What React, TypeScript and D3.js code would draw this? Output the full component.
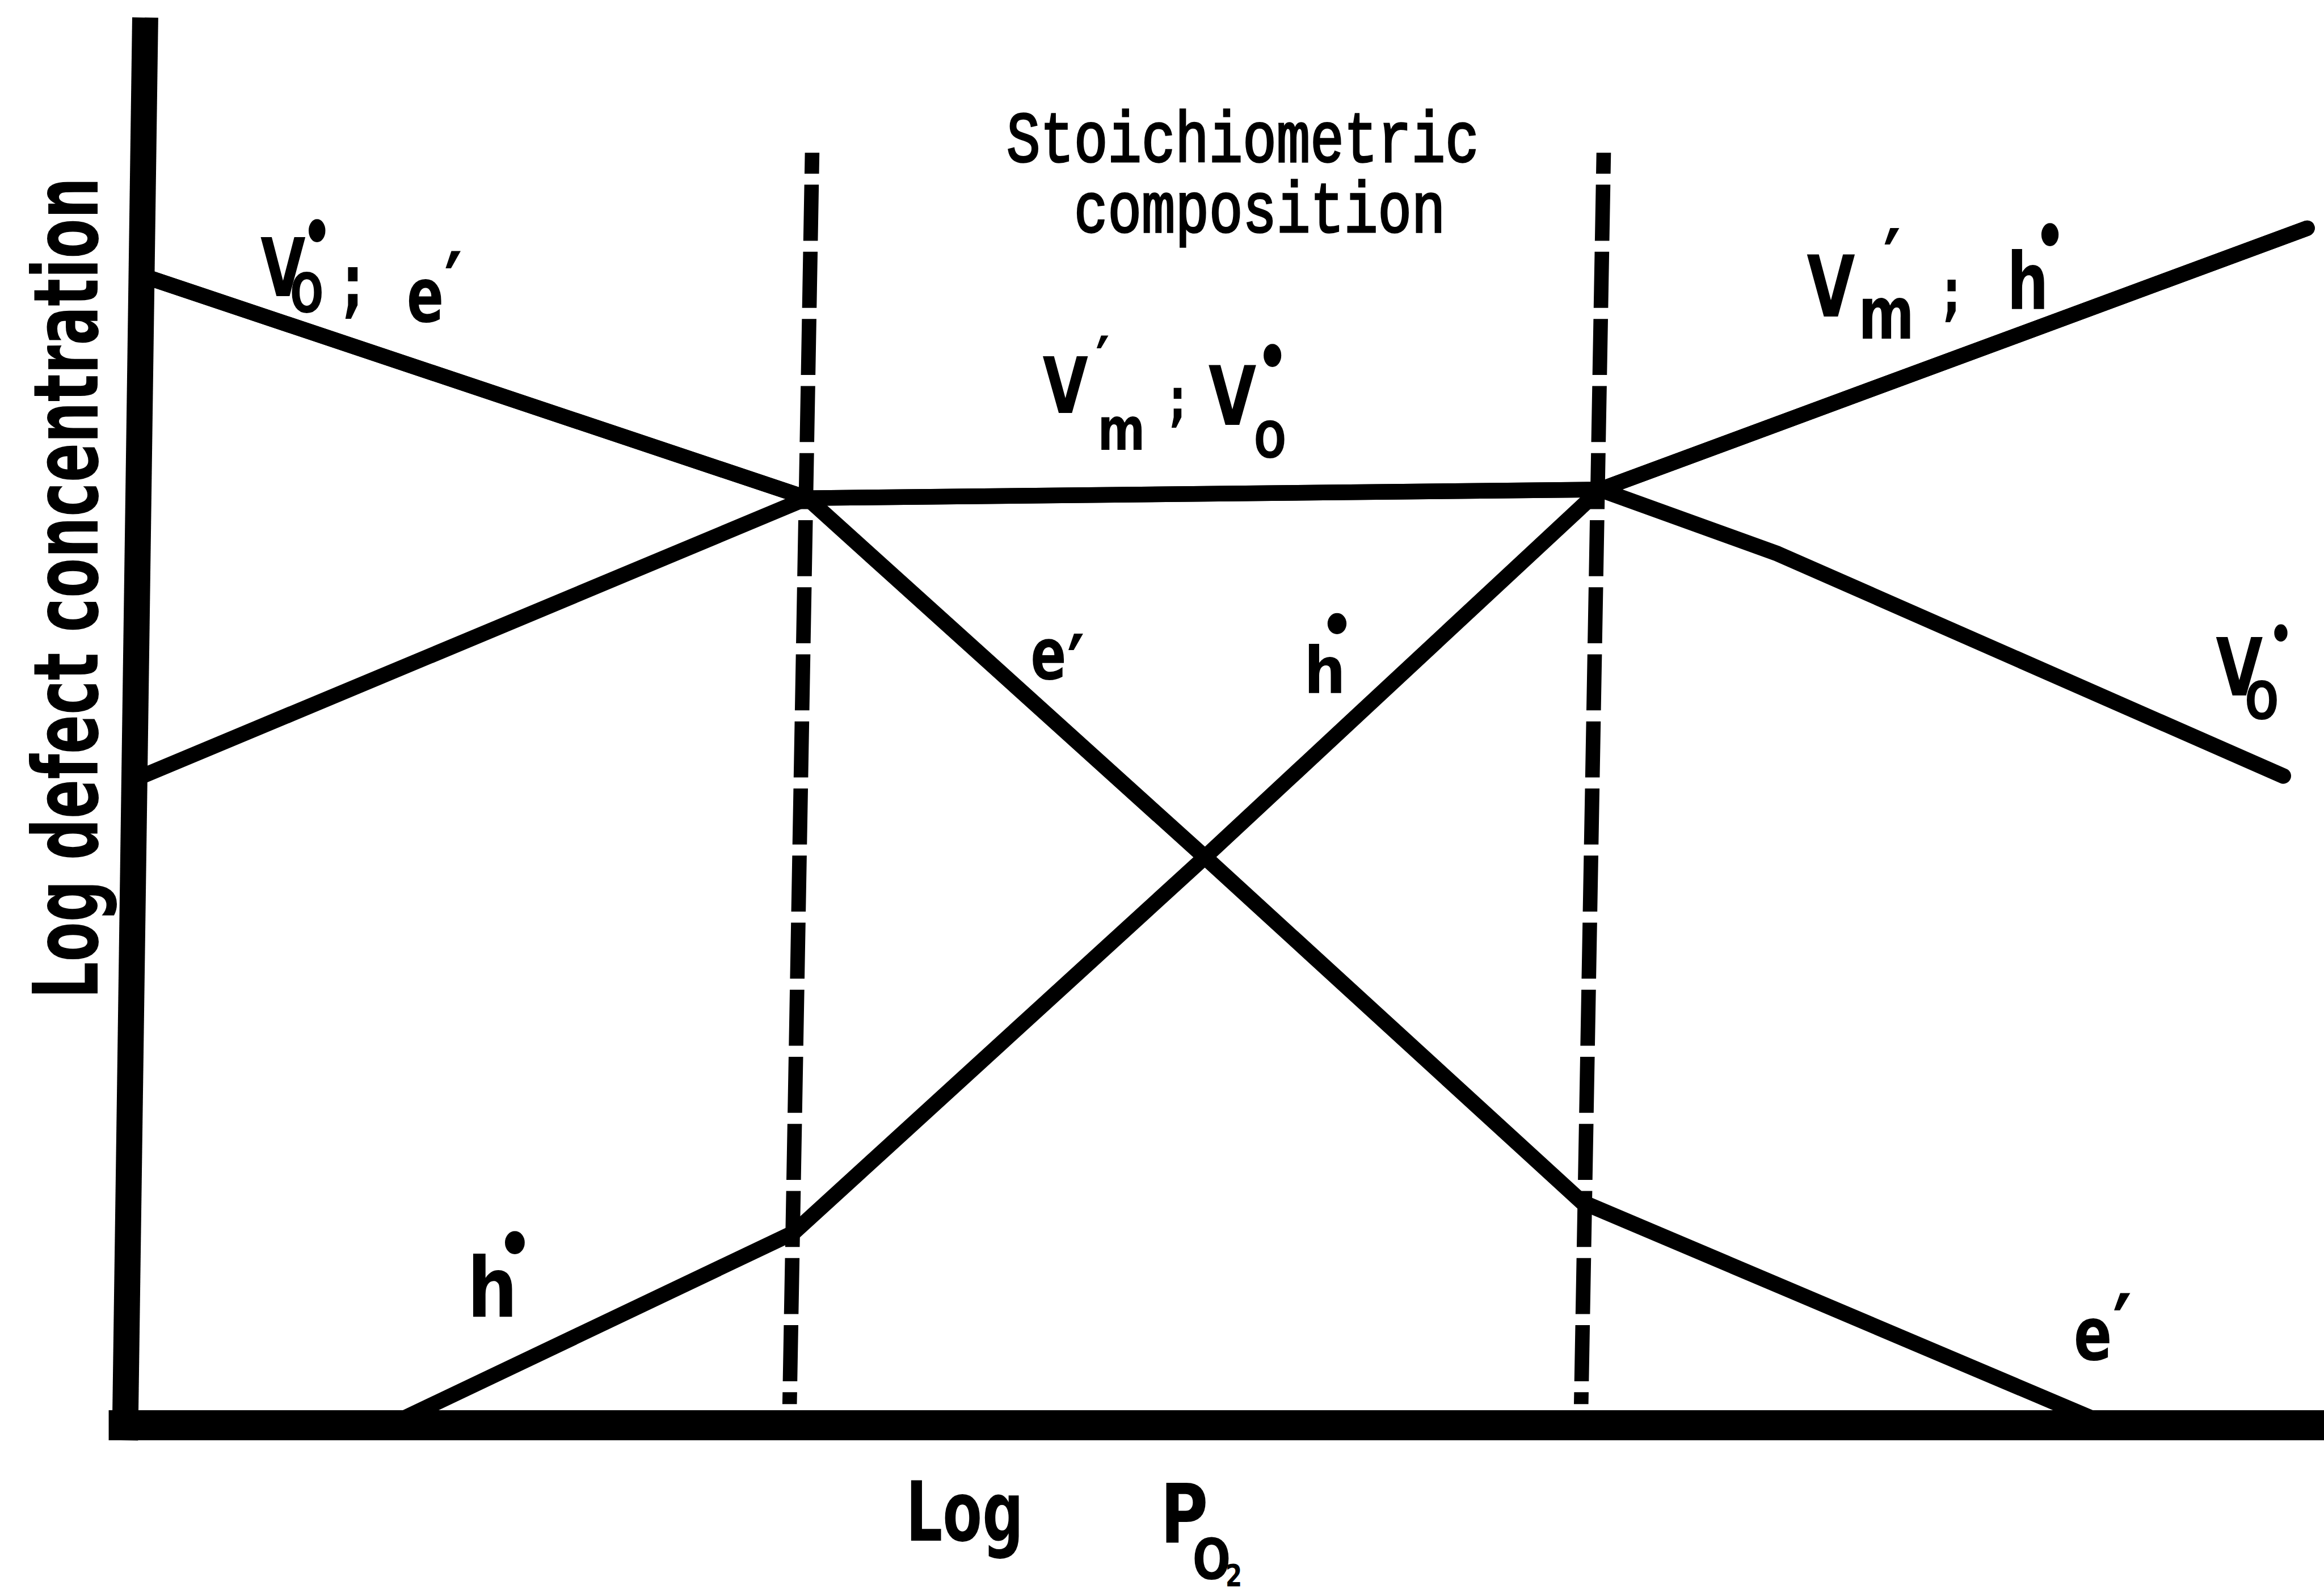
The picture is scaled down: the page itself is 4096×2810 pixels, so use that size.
import React from "react";
import * as d3 from "d3";

// Brouwer-type defect diagram: log defect concentration against log pO2.
// p: log pO2 in arbitrary units (0 at the ordinate, 100 at the right edge)
// c: log concentration in arbitrary units (0 on the abscissa, 100 at the top of the ordinate)
type Pt = { p: number; c: number };

const oxygenVacancies: Pt[] = [
  { p: 0.27, c: 81.44 },
  { p: 30.26, c: 65.86 },
  { p: 66.31, c: 66.47 },
  { p: 74.44, c: 61.91 },
  { p: 97.62, c: 46.12 },
];

const metalVacancies: Pt[] = [
  { p: 0.15, c: 46.05 },
  { p: 30.26, c: 65.86 },
  { p: 66.31, c: 66.47 },
  { p: 98.25, c: 85.03 },
];

const electrons: Pt[] = [
  { p: 0.27, c: 81.44 },
  { p: 30.26, c: 65.86 },
  { p: 48.64, c: 40.36 },
  { p: 66.07, c: 15.86 },
  { p: 90.2, c: 0 },
];

const holes: Pt[] = [
  { p: 12.0, c: 0 },
  { p: 30.25, c: 13.69 },
  { p: 48.64, c: 40.36 },
  { p: 66.31, c: 66.47 },
  { p: 98.25, c: 85.03 },
];

// Edges of the near-stoichiometric region (log pO2) and the span of the dashed markers
const regionBoundaries = [30.2, 66.2];
const boundarySpan = [1.5, 90.4];

const captionLines = ["Stoichiometric", "composition"];
const yTitle = "Log defect concentration";
const xTitleWord = "Log";
const xTitleSymbol = ["P", "O", "2"];

// Drawing units follow a 4641 x 3184 sheet, scaled into the window by the viewBox
const SHEET_W = 4641;
const SHEET_H = 3184;
const PLOT_SHEAR = 0.018; // the hand-ruled verticals lean slightly to the right
const AXIS_SHEAR = 0.0142;

// A Kröger–Vink label: a horizontally condensed run of glyphs.
// Each glyph has a start x (or centre x for the charge dot), baseline y and font size.
type Glyph = { t: string; x: number; y: number; f: number; dot?: boolean };
type DefectLabel = { sx: number; glyphs: Glyph[] };

const defectLabels: DefectLabel[] = [
  {
    // V_O• ; e′
    sx: 0.72,
    glyphs: [
      { t: "V", x: 520, y: 591, f: 162 },
      { t: "O", x: 579, y: 624, f: 110 },
      { t: "•", x: 633, y: 520, f: 160, dot: true },
      { t: ";", x: 683, y: 615, f: 150 },
      { t: "e", x: 812, y: 643, f: 152 },
      { t: "′", x: 887, y: 640, f: 190 },
    ],
  },
  {
    // V′m ; V_O•
    sx: 0.76,
    glyphs: [
      { t: "V", x: 2082, y: 825, f: 155 },
      { t: "′", x: 2188, y: 772, f: 140 },
      { t: "m", x: 2192, y: 898, f: 120 },
      { t: ";", x: 2334, y: 839, f: 115 },
      { t: "V", x: 2413, y: 849, f: 163 },
      { t: "•", x: 2541, y: 769, f: 160, dot: true },
      { t: "O", x: 2504, y: 914, f: 100 },
    ],
  },
  {
    // V′m ; h•
    sx: 0.74,
    glyphs: [
      { t: "V", x: 3608, y: 632, f: 169 },
      { t: "′", x: 3761, y: 587, f: 180 },
      { t: "m", x: 3711, y: 677, f: 145 },
      { t: ";", x: 3879, y: 627, f: 124 },
      { t: "h", x: 4008, y: 618, f: 158 },
      { t: "•", x: 4094, y: 528, f: 160, dot: true },
    ],
  },
  {
    // e′ (middle)
    sx: 0.74,
    glyphs: [
      { t: "e", x: 2058, y: 1356, f: 143 },
      { t: "′", x: 2131, y: 1397, f: 180 },
    ],
  },
  {
    // h• (middle)
    sx: 0.9,
    glyphs: [
      { t: "h", x: 2604, y: 1385, f: 130 },
      { t: "•", x: 2670, y: 1300, f: 145, dot: true },
    ],
  },
  {
    // V_O• (right)
    sx: 0.76,
    glyphs: [
      { t: "V", x: 4425, y: 1389, f: 160 },
      { t: "O", x: 4483, y: 1437, f: 105 },
      { t: "•", x: 4555, y: 1309, f: 120, dot: true },
    ],
  },
  {
    // h• (lower left)
    sx: 0.85,
    glyphs: [
      { t: "h", x: 933, y: 2630, f: 166 },
      { t: "•", x: 1028, y: 2541, f: 160, dot: true },
    ],
  },
  {
    // e′ (lower right)
    sx: 0.77,
    glyphs: [
      { t: "e", x: 4141, y: 2716, f: 147 },
      { t: "′", x: 4219, y: 2722, f: 190 },
    ],
  },
];

const LABEL_FONT = "'DejaVu Sans', 'Liberation Sans', sans-serif";
const TYPE_FONT = "'Liberation Mono', 'DejaVu Sans Mono', monospace";
const DOT_HALF_ADVANCE = 0.295; // half the advance of the bullet glyph, in em

function Label({ label }: { label: DefectLabel }) {
  const { sx, glyphs } = label;
  return (
    <text transform={`scale(${sx},1)`} fontFamily={LABEL_FONT} fontWeight="bold" fill="#000">
      {glyphs.map((g, j) => {
        const start = g.dot ? g.x - DOT_HALF_ADVANCE * g.f * sx : g.x;
        return (
          <tspan
            key={j}
            x={start / sx}
            y={g.y}
            fontSize={g.f}
            fontWeight={g.dot ? "normal" : "bold"}
          >
            {g.t}
          </tspan>
        );
      })}
    </text>
  );
}

export default function App() {
  const x = d3.scaleLinear().domain([0, 100]).range([250, SHEET_W]);
  const y = d3.scaleLinear().domain([0, 100]).range([2847, 35]);
  const y0 = y(0);

  const line = d3
    .line<Pt>()
    .x((d) => x(d.p))
    .y((d) => y(d.c));

  const shearDeg = (-Math.atan(PLOT_SHEAR) * 180) / Math.PI;
  const plotTransform = `translate(0,${y0}) skewX(${shearDeg}) translate(0,${-y0})`;

  const series = [oxygenVacancies, metalVacancies, electrons, holes];

  const yAxisTop = y(100);
  const yAxisBottom = y0 + 30;

  const captionScale = 0.791;

  return (
    <svg
      width={4096}
      height={2810}
      viewBox={`0 0 ${SHEET_W} ${SHEET_H}`}
      style={{ position: "absolute", left: 0, top: 0, background: "#fff" }}
    >
      <rect x={0} y={0} width={SHEET_W} height={SHEET_H} fill="#fff" />

      {/* axes: thick ruled bars */}
      <line
        x1={x(0) + AXIS_SHEAR * (y0 - yAxisTop)}
        y1={yAxisTop}
        x2={x(0) - AXIS_SHEAR * (yAxisBottom - y0)}
        y2={yAxisBottom}
        stroke="#000"
        strokeWidth={52}
      />
      <line x1={x(0) - 33} y1={y0} x2={SHEET_W + 20} y2={y0} stroke="#000" strokeWidth={60} />

      <g transform={plotTransform}>
        {regionBoundaries.map((b, i) => (
          <line
            key={`b${i}`}
            x1={x(b)}
            x2={x(b)}
            y1={y(boundarySpan[1])}
            y2={y(boundarySpan[0])}
            stroke="#000"
            strokeWidth={29}
            strokeDasharray="112 22"
            strokeDashoffset={70}
          />
        ))}
        {series.map((s, i) => (
          <path
            key={`s${i}`}
            d={line(s) ?? ""}
            fill="none"
            stroke="#000"
            strokeWidth={31}
            strokeLinejoin="round"
            strokeLinecap="round"
          />
        ))}
      </g>

      {/* region caption, condensed typewriter face */}
      <text
        transform={`scale(${captionScale},1)`}
        fontSize={142}
        fontFamily={TYPE_FONT}
        stroke="#000"
        strokeWidth={4}
      >
        <tspan x={2010 / captionScale} y={323}>
          {captionLines[0]}
        </tspan>
        <tspan x={2145 / captionScale} y={463}>
          {captionLines[1]}
        </tspan>
      </text>

      {/* defect labels */}
      {defectLabels.map((lab, i) => (
        <Label key={`l${i}`} label={lab} />
      ))}

      {/* axis titles */}
      <text
        transform={`translate(195,1995) rotate(-90) scale(0.644,1)`}
        fontSize={180}
        fontFamily={LABEL_FONT}
        fontWeight="bold"
      >
        {yTitle}
      </text>
      <text
        transform={`translate(1809,3077) scale(0.694,1)`}
        fontSize={166}
        fontFamily={LABEL_FONT}
        fontWeight="bold"
      >
        {xTitleWord}
      </text>
      <text transform="scale(0.8,1)" fontFamily={LABEL_FONT} fontWeight="bold">
        <tspan x={2317 / 0.8} y={3082} fontSize={163}>
          {xTitleSymbol[0]}
        </tspan>
        <tspan x={2381 / 0.8} y={3155} fontSize={113}>
          {xTitleSymbol[1]}
        </tspan>
        <tspan x={2447 / 0.8} y={3168} fontSize={60}>
          {xTitleSymbol[2]}
        </tspan>
      </text>
    </svg>
  );
}
